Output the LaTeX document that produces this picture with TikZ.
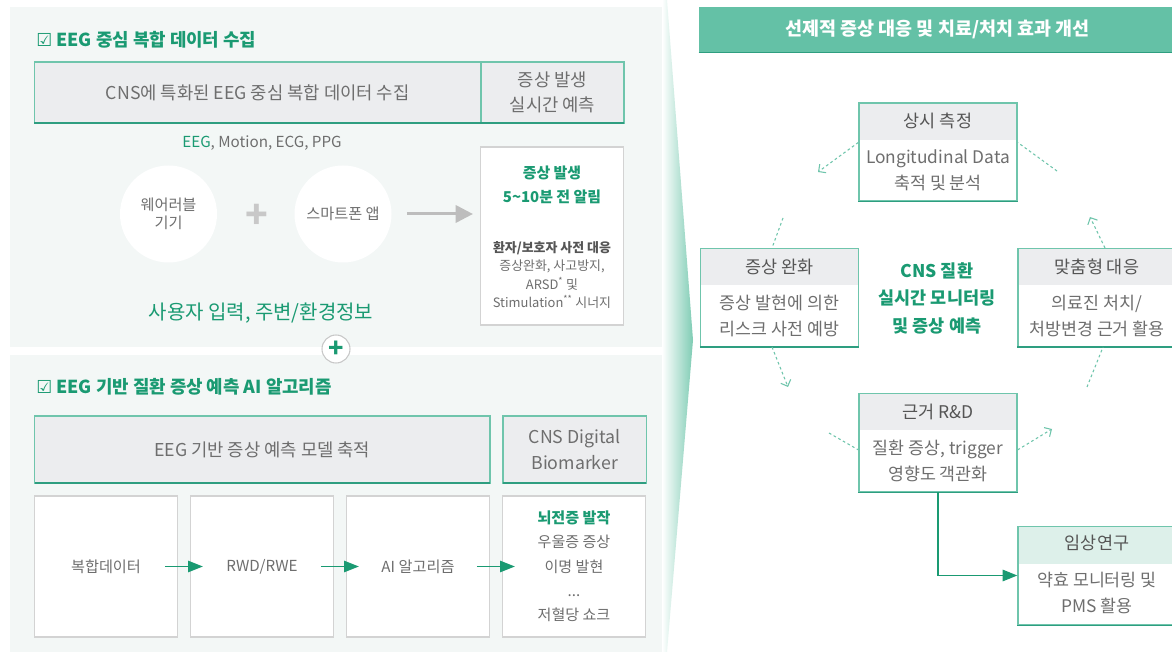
\documentclass[tikz,border=0pt]{standalone}
\usepackage{fontspec}
\setmainfont{Noto Sans CJK KR}
\newfontfamily\symfont{DejaVu Sans}
\usetikzlibrary{arrows.meta,positioning}
\definecolor{brandgreen}{HTML}{1A9A72}
\definecolor{lineteal}{HTML}{6FC5AC}
\definecolor{linedark}{HTML}{2E9E80}
\definecolor{bannerfill}{HTML}{64C1A6}
\definecolor{headgray}{HTML}{ECEDEF}
\definecolor{headmint}{HTML}{DDF0EA}
\definecolor{panelfill}{HTML}{F3F7F6}
\definecolor{textgray}{HTML}{6E6E6E}
\definecolor{titlegray}{HTML}{555555}
\definecolor{boxgray}{HTML}{D3D3D3}
\definecolor{hintgray}{HTML}{BDBDBD}
\definecolor{plusgray}{HTML}{C8C8C8}
\definecolor{wedgegreen}{HTML}{7FCCB4}

\begin{document}
\begin{tikzpicture}[x=0.75pt, y=-0.75pt,
  every node/.style={align=center, inner sep=0pt, text=textgray},
  fbig/.style={font=\fontsize{13.3}{20}\selectfont},
  fsmall/.style={font=\fontsize{11.4}{13.5}\selectfont},
  headline/.style={font=\fontsize{13.4}{15}\bfseries, text=brandgreen, anchor=west},
  graybox/.style={draw=lineteal, fill=headgray, line width=0.9pt, outer sep=0pt, minimum height=45.75pt, fbig},
  plainbox/.style={draw=boxgray, fill=white, line width=0.8pt, outer sep=0pt},
  flowbox/.style={plainbox, minimum width=107.25pt, minimum height=105.75pt, fsmall},
  bubble/.style={circle, fill=white, minimum size=72.75pt, fsmall},
  card/.style={draw=lineteal, fill=white, line width=0.9pt, minimum width=118.5pt, minimum height=73.5pt,
    path picture={\fill[#1] (path picture bounding box.north west) rectangle ([yshift=-27.75pt]path picture bounding box.north east);}},
  card/.default=headgray,
  cardtitle/.style={font=\fontsize{13.1}{16}\selectfont, text=titlegray},
  cardtext/.style={font=\fontsize{13}{19.5}\selectfont},
  flowarrow/.style={draw=brandgreen, line width=1.1pt, -{Triangle[length=11pt, width=8.5pt]}},
  hintarrow/.style={draw=hintgray, line width=2.25pt, -{Triangle[length=13pt, width=13pt]}},
  cyclink/.style={draw=lineteal, line width=0.8pt, dash pattern=on 2pt off 2pt},
  cychead/.style={cyclink, -{Straight Barb[length=4pt, width=8pt]}},
  bottomedge/.style={draw=linedark, line width=0.9pt}]

  \useasboundingbox (0,0) rectangle (1172,652);
  \clip (0,0) rectangle (1172,652);
  \fill[white] (0,0) rectangle (1172,652);
  \fill[panelfill] (10,7) rectangle (662,347);
  \fill[panelfill] (10,355) rectangle (662,652);
  \shade[left color=white, right color=wedgegreen] (662,0) -- (667,0) -- (693,340) -- (667,652) -- (662,652) -- cycle;

  \node[headline] (title1) at (36,40) {{\symfont\mdseries ☑} EEG 중심 복합 데이터 수집};
  \node[graybox, minimum width=334.9pt] (collect) at (257.75,92.5) {CNS에 특화된 EEG 중심 복합 데이터 수집};
  \node[graybox, minimum width=107.25pt, right=0pt of collect, font=\fontsize{13.3}{18.75}\selectfont] (realtime) {증상 발생\\실시간 예측};
  \node[fsmall] (signals) at (262,143) {\textcolor{brandgreen}{EEG}, Motion, ECG, PPG};
  \node[bubble] (wearable) at (168.5,214) {웨어러블\\기기};
  \node[text=plusgray, font=\fontsize{28}{28}\bfseries] (plus) at (257,216) {+};
  \node[bubble] (phone) at (343,214) {스마트폰 앱};
  \node[plainbox, minimum width=107.25pt, minimum height=133.5pt] (alert) at (552,236) {};
  \node[font=\fontsize{11.2}{18}\bfseries, text=brandgreen] (alerttitle) at (552,185) {증상 발생\\5\textasciitilde10분 전 알림};
  \node[font=\fontsize{9.7}{13.7}\selectfont] (alertbody) at (552,275) {\textcolor{titlegray}{\bfseries 환자/보호자 사전 대응}\\증상완화, 사고방지,\\ARSD\textsuperscript{*} 및\\Stimulation\textsuperscript{**} 시너지};
  \draw[hintarrow, shorten <=11.25pt, shorten >=5.7pt] (phone.east) -- (phone.east -| alert.west);
  \node[font=\fontsize{15}{17}\selectfont, text=brandgreen] (userinfo) at (261,313) {사용자 입력, 주변/환경정보};
  \node[circle, draw=plusgray, fill=white, line width=0.8pt, minimum size=21pt, text=brandgreen, font=\fontsize{19}{19}\bfseries] (join) at (336,349) {+};

  \node[headline] (title2) at (36,387) {{\symfont\mdseries ☑} EEG 기반 질환 증상 예측 AI 알고리즘};
  \node[graybox, minimum width=341.6pt, minimum height=50.25pt] (model) at (262.25,449.5) {EEG 기반 증상 예측 모델 축적};
  \node[graybox, minimum width=107.6pt, minimum height=50.25pt, right=9.75pt of model] (biomarker) {CNS Digital\\Biomarker};
  \node[flowbox] (data) at (106,566.5) {복합데이터};
  \node[flowbox, right=9.75pt of data] (rwd) {RWD/RWE};
  \node[flowbox, right=9.75pt of rwd] (algo) {AI 알고리즘};
  \node[flowbox, right=9.75pt of algo, font=\fontsize{11.3}{18.2}\selectfont] (outcome) {\textcolor{brandgreen}{\bfseries 뇌전증 발작}\\우울증 증상\\이명 발현\\...\\저혈당 쇼크};
  \draw[flowarrow, shorten <=-9.5pt, shorten >=-9.25pt] (data) -- (rwd);
  \draw[flowarrow, shorten <=-9.5pt, shorten >=-9.25pt] (rwd) -- (algo);
  \draw[flowarrow, shorten <=-9.5pt, shorten >=-9.25pt] (algo) -- (outcome);

  \node[fill=bannerfill, minimum width=357.75pt, minimum height=33.75pt, text=white, font=\fontsize{13.85}{16}\bfseries] (banner) at (937.5,29.5) {선제적 증상 대응 및 치료/처치 효과 개선};
  \draw[bottomedge] (banner.south west) -- (banner.south east);

  \node[card] (measure) at (938,152) {};
  \node[card] (relief) at (779.5,297.5) {};
  \node[card] (custom) at (1097,297.5) {};
  \node[card] (rnd) at (938,442.5) {};
  \node[card=headmint] (clinical) at (1097,575.5) {};
  \foreach \bx in {collect,realtime,model,biomarker,measure,relief,custom,rnd,clinical}
    \draw[bottomedge] (\bx.south west) -- (\bx.south east);

  \node[cardtitle] (measuretitle) at ([yshift=-14.25pt]measure.north) {상시 측정};
  \node[cardtext] (measuretext) at ([yshift=-51pt]measure.north) {Longitudinal Data\\축적 및 분석};
  \node[cardtitle] (relieftitle) at ([yshift=-14.25pt]relief.north) {증상 완화};
  \node[cardtext] (relieftext) at ([yshift=-51pt]relief.north) {증상 발현에 의한\\리스크 사전 예방};
  \node[cardtitle] (customtitle) at ([yshift=-14.25pt]custom.north) {맞춤형 대응};
  \node[cardtext] (customtext) at ([yshift=-51pt]custom.north) {의료진 처치/\\처방변경 근거 활용};
  \node[cardtitle] (rndtitle) at ([yshift=-14.25pt]rnd.north) {근거 R\&D};
  \node[cardtext] (rndtext) at ([yshift=-51pt]rnd.north) {질환 증상, trigger\\영향도 객관화};
  \node[cardtitle] (clinicaltitle) at ([yshift=-13pt]clinical.north) {임상연구};
  \node[cardtext] (clinicaltext) at ([yshift=-50pt]clinical.north) {약효 모니터링 및\\PMS 활용};
  \node[font=\fontsize{13.1}{20.6}\bfseries, text=brandgreen] (core) at (937,298) {CNS 질환\\실시간 모니터링\\및 증상 예측};

  \coordinate (c1) at (818,172);
  \coordinate (c2) at (783,218);
  \coordinate (c3) at (788,387);
  \coordinate (c4) at (829,433);
  \coordinate (c5) at (1052,429);
  \coordinate (c6) at (1087,387);
  \coordinate (c7) at (1090,217);
  \coordinate (c8) at (1057,171);
  \draw[cychead] ([yshift=-30pt]measure.north west) -- (c1);
  \draw[cyclink] (c2) -- ([xshift=-5.6pt]relief.north);
  \draw[cychead] ([xshift=-5.6pt]relief.south) -- (c3);
  \draw[cyclink] (c4) -- ([yshift=-42.75pt]rnd.north west);
  \draw[cychead] ([yshift=-42.75pt]rnd.north east) -- (c5);
  \draw[cyclink] (c6) -- ([xshift=4.5pt]custom.south);
  \draw[cychead] ([xshift=6pt]custom.north) -- (c7);
  \draw[cyclink] (c8) -- ([yshift=-30pt]measure.north east);
  \draw[flowarrow] (rnd.south) |- (clinical.west);
\end{tikzpicture}
\end{document}
